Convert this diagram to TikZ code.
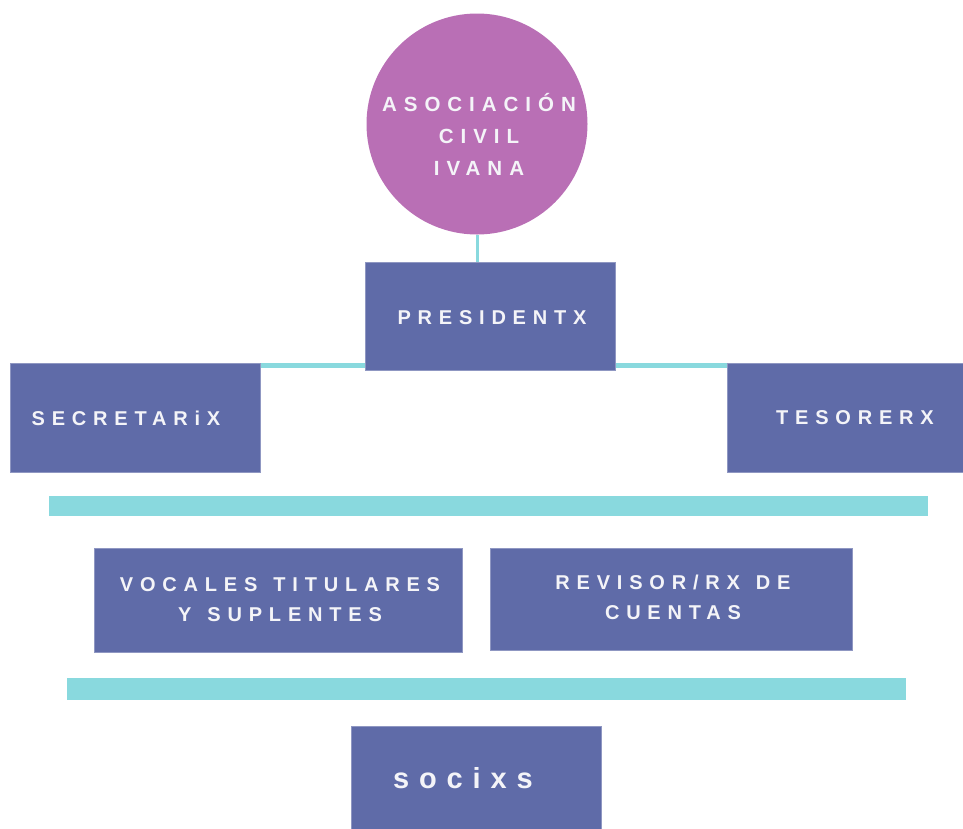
\documentclass[tikz,border=0pt]{standalone}
\usepackage{fontspec}
\setmainfont{Liberation Sans}
\newfontfamily\spaced[LetterSpace=34]{Liberation Sans Bold}
\usetikzlibrary{backgrounds}
\definecolor{circ}{HTML}{B96FB5}
\definecolor{boxc}{HTML}{5F6BA8}
\definecolor{teal}{HTML}{89D9DE}
\definecolor{txt}{HTML}{F4F4F8}
\newcommand{\wsp}{\hspace{16pt}}
\tikzset{
  rolebox/.style={rectangle, fill=boxc, draw=boxc!70!white, line width=0.6pt, inner sep=0pt},
  roletext/.style={inner sep=0pt, text=txt, font=\spaced\fontsize{20}{30}\selectfont, align=center},
  tealbar/.style={rectangle, fill=teal, inner sep=0pt},
  link/.style={draw=teal, line width=#1},
}
\begin{document}
\begin{tikzpicture}[x=1pt,y=-1pt]
\useasboundingbox (0,0) rectangle (963,828);
\node[circle, fill=circ, minimum size=221pt, inner sep=0pt] (org) at (477,124) {};
\node[roletext, font=\spaced\fontsize{20.5}{32}\selectfont] (orgt) at (479,134) {ASOCIACIÓN\\CIVIL\\IVANA};
\node[rolebox, minimum width=250pt, minimum height=108pt] (pres) at (490,316) {};
\node[roletext] (prest) at (492,317.5) {PRESIDENTX};
\node[rolebox, minimum width=250pt, minimum height=109pt] (sec) at (135,417.5) {};
\node[roletext] (sect) at (126,418) {SECRETARiX};
\node[rolebox, minimum width=240pt, minimum height=109pt] (tes) at (847,417.5) {};
\node[roletext] (test) at (855,418) {TESORERX};
\node[tealbar, minimum width=879pt, minimum height=20pt] (bar1) at (488.5,506) {};
\node[rolebox, minimum width=368pt, minimum height=104pt] (voc) at (278,600) {};
\node[roletext] (voct) at (280,600) {VOCALES\wsp TITULARES\\Y\wsp SUPLENTES};
\node[rolebox, minimum width=362pt, minimum height=102pt] (rev) at (671,599) {};
\node[roletext] (revt) at (673,597) {REVISOR/RX\wsp DE\\CUENTAS};
\node[tealbar, minimum width=839pt, minimum height=22pt] (bar2) at (486.5,689) {};
\node[rolebox, minimum width=250pt, minimum height=104pt] (soc) at (476,778) {};
\node[roletext, font=\spaced\fontsize{29}{30}\selectfont] (soct) at (463,778) {socixs};
\begin{scope}[on background layer]
\draw[link=3pt] (org.south) -- (org.south |- pres.north);
\draw[link=5pt] ([yshift=-3pt]sec.north east) -- ([yshift=-3pt]tes.north west);
\end{scope}
\end{tikzpicture}
\end{document}
